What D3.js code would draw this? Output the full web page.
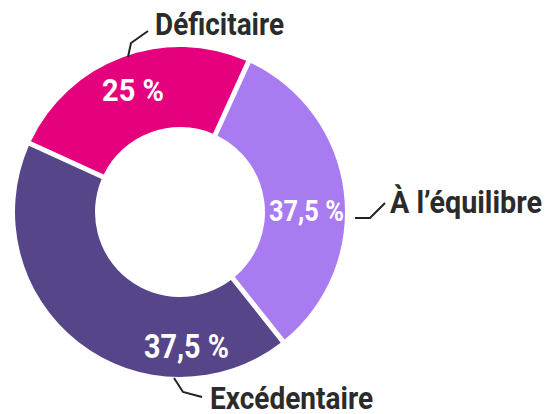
<!DOCTYPE html>
<html><head><meta charset="utf-8">
<script src="https://cdn.jsdelivr.net/npm/d3@7"></script>
<style>
body{margin:0;background:#fff}
text{font-family:Roboto,"Liberation Sans",sans-serif;font-weight:700}
</style>
</head><body>
<svg id="c" width="560" height="414"></svg>
<script>
// Data
const categories = ["Déficitaire", "À l’équilibre", "Excédentaire"];
const values = [25, 32.5, 42.5];           // slice sizes as drawn
const valueLabels = ["25 %", "37,5 %", "37,5 %"];
const colors = ["#e5007d", "#a97bf1", "#574589"];

// Layout (not data)
const cx = 180, cy = 212, rOuter = 165, rInner = 85, gap = 5;
const startDeg = -65.5;
const valueLabelPos = [
  {x: 102, y: 101, w: 62, fs: 31},
  {x: 269, y: 221, w: 75, fs: 30},
  {x: 144, y: 358, w: 85, fs: 33}
];
const catLabelPos = [
  {x: 155, y: 35, w: 129, fs: 32},
  {x: 390, y: 213, w: 152, fs: 32},
  {x: 210, y: 409, w: 163, fs: 32}
];
const leaders = [
  [[128, 57], [131, 43], [148, 31]],
  [[355, 218], [370, 218], [385, 203]],
  [[174, 378], [183, 392], [202, 397]]
];

const svg = d3.select("#c");
const g = svg.append("g").attr("transform", `translate(${cx},${cy})`);

const start = startDeg * Math.PI / 180;
const pie = d3.pie().sort(null).value(d => d.v).startAngle(start).endAngle(start + 2 * Math.PI);
const data = categories.map((c, i) => ({c, v: values[i], label: valueLabels[i], color: colors[i]}));
const arcs = pie(data);

const arc = d3.arc().innerRadius(rInner).outerRadius(rOuter)
  .padRadius(rOuter).padAngle(gap / rOuter);

g.selectAll("path.slice").data(arcs).enter().append("path")
  .attr("class", "slice")
  .attr("d", arc)
  .attr("fill", d => d.data.color);

// leader lines
const line = d3.line();
svg.selectAll("path.leader").data(leaders).enter().append("path")
  .attr("class", "leader")
  .attr("d", d => line(d))
  .attr("fill", "none").attr("stroke", "#222").attr("stroke-width", 2);

// value labels
svg.selectAll("text.val").data(arcs).enter().append("text")
  .attr("class", "val")
  .attr("x", (d, i) => valueLabelPos[i].x)
  .attr("y", (d, i) => valueLabelPos[i].y)
  .attr("font-size", (d, i) => valueLabelPos[i].fs)
  .attr("textLength", (d, i) => valueLabelPos[i].w)
  .attr("lengthAdjust", "spacingAndGlyphs")
  .attr("fill", "#fff")
  .text(d => d.data.label);

// category labels
svg.selectAll("text.cat").data(arcs).enter().append("text")
  .attr("class", "cat")
  .attr("x", (d, i) => catLabelPos[i].x)
  .attr("y", (d, i) => catLabelPos[i].y)
  .attr("font-size", (d, i) => catLabelPos[i].fs)
  .attr("textLength", (d, i) => catLabelPos[i].w)
  .attr("lengthAdjust", "spacingAndGlyphs")
  .attr("fill", "#2b2b2b")
  .text(d => d.data.c);
</script>
</body></html>
